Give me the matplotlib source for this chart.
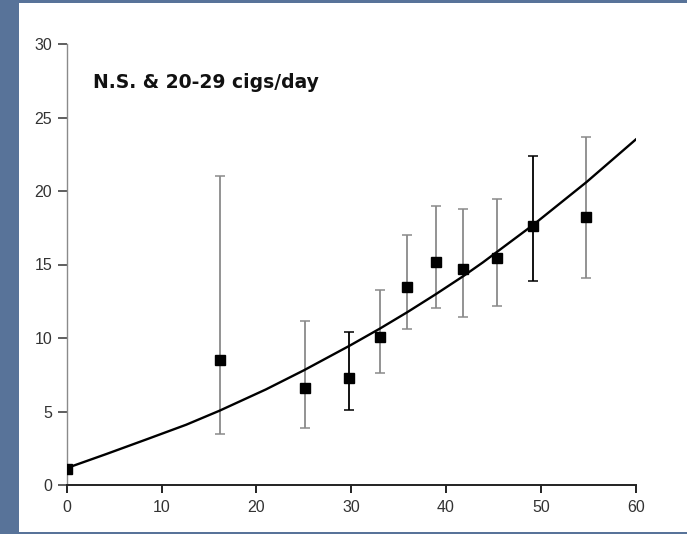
import matplotlib
matplotlib.use('Agg')
import matplotlib.pyplot as plt

plt.rcParams['font.family'] = ['Liberation Sans', 'DejaVu Sans']

# cigarettes/day (x) vs. risk (y)
x_pts = [0.0, 16.2, 25.1, 29.8, 33.0, 35.9, 38.9, 41.8, 45.35, 49.2, 54.75]
y_pts = [1.1, 8.5, 6.6, 7.25, 10.1, 13.45, 15.2, 14.7, 15.45, 17.65, 18.25]
y_low = [1.1, 3.45, 3.9, 5.1, 7.65, 10.6, 12.05, 11.45, 12.15, 13.85, 14.05]
y_high = [1.1, 21.0, 11.15, 10.4, 13.25, 17.0, 19.0, 18.8, 19.45, 22.4, 23.65]
bar_dark = [False, False, False, True, False, False, False, False, False, True, False]

# fitted curve, read at intervals along the line
curve_x = [0, 4.15, 8.4, 12.6, 16.1, 21.0, 25.0, 29.9, 33.05, 35.9, 38.85,
           41.8, 43.9, 49.2, 54.8, 60]
curve_y = [1.15, 2.1, 3.1, 4.1, 5.05, 6.5, 7.8, 9.5, 10.65, 11.75, 12.95,
           14.2, 15.15, 17.7, 20.6, 23.5]

x_ticks = [0, 10, 20, 30, 40, 50, 60]
y_ticks = [0, 5, 10, 15, 20, 25, 30]
label = 'N.S. & 20-29 cigs/day'

fig = plt.figure(figsize=(6.87, 5.34), dpi=100)
fig.patch.set_facecolor('#587399')

# white panel inside the blue frame
bg = fig.add_axes([19 / 687, 2 / 534, 668 / 687, 529 / 534])
bg.set_axis_off()
bg.add_patch(plt.Rectangle((0, 0), 1, 1, transform=bg.transAxes,
                           facecolor='white', edgecolor='none'))

ax = fig.add_axes([66.7 / 687, 49 / 534, 569 / 687, 441 / 534])
ax.set_facecolor('none')

for i in range(len(x_pts)):
    col = 'black' if bar_dark[i] else '#8a8a8a'
    ax.errorbar([x_pts[i]], [y_pts[i]],
                yerr=[[y_pts[i] - y_low[i]], [y_high[i] - y_pts[i]]],
                fmt='none', ecolor=col, elinewidth=1.3, capsize=3.4,
                capthick=1.1, zorder=2)

ax.plot(curve_x, curve_y, color='black', lw=1.7, zorder=3)
ax.plot(x_pts, y_pts, 's', color='black', ms=7.2, zorder=4)

ax.set_xlim(0, 60)
ax.set_ylim(0, 30)
ax.set_xticks(x_ticks)
ax.set_yticks(y_ticks)
ax.spines['top'].set_visible(False)
ax.spines['right'].set_visible(False)
ax.spines['left'].set_color('#8a8a8a')
ax.spines['left'].set_linewidth(1.0)
ax.spines['bottom'].set_color('#222222')
ax.spines['bottom'].set_linewidth(1.4)
ax.tick_params(axis='x', length=6, width=1.4, color='#222222', pad=5,
               labelsize=11.5, labelcolor='#333333')
ax.tick_params(axis='y', length=6.5, width=1.1, color='#333333', pad=4,
               labelsize=11.5, labelcolor='#333333')

ax.text(2.75, 27.35, label, fontsize=13.5, fontweight='bold', va='center',
        ha='left', color='#111111', family='DejaVu Sans')

fig.savefig('out.png', dpi=100, facecolor=fig.get_facecolor())
